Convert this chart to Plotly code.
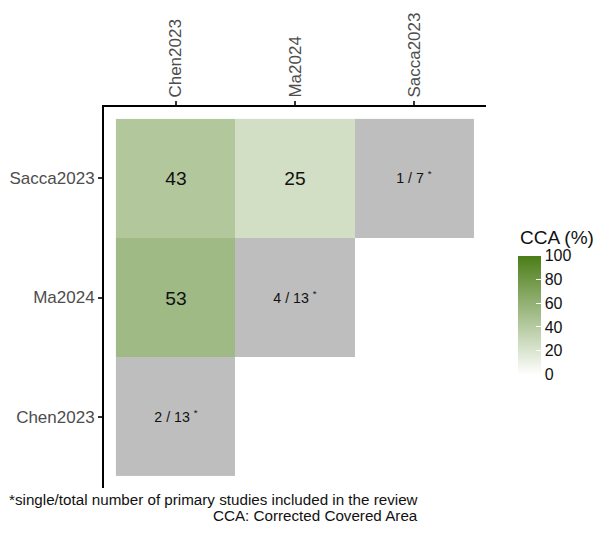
import plotly.graph_objects as go

studies = ["Chen2023", "Ma2024", "Sacca2023"]
# CCA (%) matrix, rows = y study (bottom to top), cols = x study
cca = [
    [None, None, None],   # Chen2023 row
    [53, None, None],     # Ma2024 row
    [43, 25, None],       # Sacca2023 row
]
single_counts = [2, 4, 1]
total_counts = [13, 13, 7]
cbar_ticks = [0, 20, 40, 60, 80, 100]
caption_lines = ["*single/total number of primary studies included in the review",
                 "CCA: Corrected Covered Area"]

n = len(studies)
diag_z = [[1 if i == j else None for j in range(n)] for i in range(n)]
diag_text = [[(f"{single_counts[i]} / {total_counts[i]} <sup>*</sup>" if i == j else "")
              for j in range(n)] for i in range(n)]

FONT = "Liberation Sans, Arial, sans-serif"
OFF = 8  # default page body margin
W, H = 602 - 2 * OFF, 534 - 2 * OFF
L, T = 104 - OFF, 107 - OFF
R = W - (486 - OFF)
B = H - (488 - OFF)
PW, PH = W - L - R, H - T - B


def px_x(x):  # reference pixel -> paper coordinate
    return (x - OFF - L) / PW


def px_y(y):
    return (H - B - (y - OFF)) / PH


fig = go.Figure()
fig.add_trace(go.Heatmap(
    x=studies, y=studies, z=cca,
    zmin=0, zmax=100,
    colorscale=[[0, "#ffffff"], [1, "#4b7d18"]],
    texttemplate="%{z}",
    textfont=dict(size=19.2, color="#111111", family=FONT),
    hoverinfo="skip",
    colorbar=dict(
        x=px_x(518), xanchor="left", xpad=0,
        y=px_y(315), yanchor="middle", ypad=0,
        thickness=23, thicknessmode="pixels",
        len=119, lenmode="pixels",
        outlinewidth=0,
        tickvals=cbar_ticks,
        ticks="inside", ticklen=5, tickcolor="white", tickwidth=1,
        tickfont=dict(size=16, color="#111111", family=FONT),
    ),
))
fig.add_trace(go.Heatmap(
    x=studies, y=studies, z=diag_z, text=diag_text,
    colorscale=[[0, "#bebebe"], [1, "#bebebe"]],
    showscale=False,
    texttemplate="%{text}",
    textfont=dict(size=14.2, color="#111111", family=FONT),
    hoverinfo="skip",
))

axis_common = dict(
    type="category",
    categoryorder="array", categoryarray=studies,
    range=[-0.6, 2.6],
    showgrid=False, zeroline=False,
    showline=True, linecolor="#000000", linewidth=2,
    ticks="outside", ticklen=4, tickwidth=1.5, tickcolor="#333333",
    tickfont=dict(size=17, color="#4d4d4d", family=FONT),
)

fig.update_layout(
    width=W, height=H,
    margin=dict(l=L, r=R, t=T, b=B, autoexpand=False),
    plot_bgcolor="white", paper_bgcolor="white",
    font=dict(family=FONT),
    xaxis=dict(side="top", tickangle=-90, **axis_common),
    yaxis=dict(**axis_common),
    annotations=[
        dict(
            text=caption_lines[0],
            xref="paper", yref="paper", x=px_x(420), y=px_y(499),
            xanchor="right", yanchor="middle", showarrow=False,
            font=dict(size=15.2, color="#111111", family=FONT),
        ),
        dict(
            text=caption_lines[1],
            xref="paper", yref="paper", x=px_x(420), y=px_y(515),
            xanchor="right", yanchor="middle", showarrow=False,
            font=dict(size=15.2, color="#111111", family=FONT),
        ),
        dict(
            text="CCA (%)",
            xref="paper", yref="paper", x=px_x(518), y=px_y(237),
            xanchor="left", yanchor="middle", showarrow=False,
            font=dict(size=19, color="#111111", family=FONT),
        ),
    ],
)

fig.write_html("out.html")
